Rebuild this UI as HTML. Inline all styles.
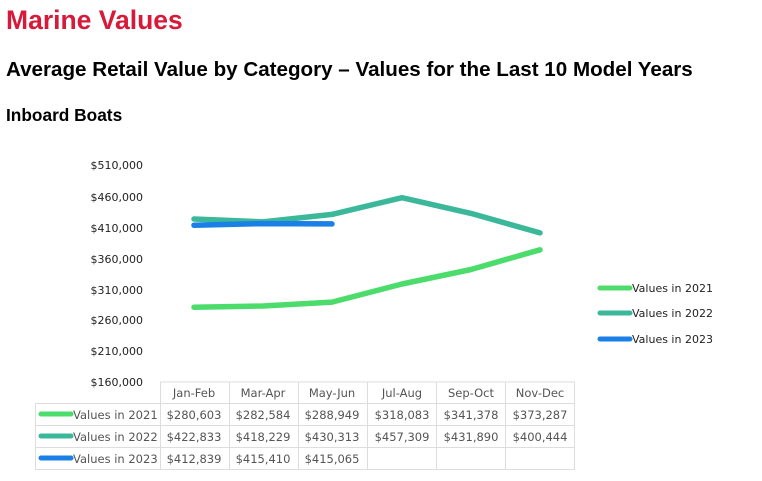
<!DOCTYPE html>
<html><head><meta charset="utf-8"><style>
body{margin:0;background:#fff;width:762px;height:481px;overflow:hidden}
svg{display:block}
.t{font-family:"Liberation Sans",sans-serif;font-weight:bold}
.c{font-family:"DejaVu Sans","Liberation Sans",sans-serif;font-size:11.5px;fill:#555}
.a{font-family:"DejaVu Sans","Liberation Sans",sans-serif;font-size:11px;fill:#222}
.l{font-family:"DejaVu Sans","Liberation Sans",sans-serif;font-size:11px;fill:#222}
</style></head><body>
<svg width="762" height="481" viewBox="0 0 762 481">
<text class="t" x="6" y="29" font-size="26.5" fill="#d7193a">Marine Values</text>
<text class="t" x="6" y="76" font-size="20.6" fill="#000">Average Retail Value by Category – Values for the Last 10 Model Years</text>
<text class="t" x="6" y="121" font-size="17.3" fill="#000">Inboard Boats</text>
<g class="a" text-anchor="end">
<text x="143" y="169">$510,000</text><text x="143" y="201">$460,000</text>
<text x="143" y="232">$410,000</text><text x="143" y="263">$360,000</text>
<text x="143" y="294">$310,000</text><text x="143" y="324">$260,000</text>
<text x="143" y="355">$210,000</text><text x="143" y="386">$160,000</text>
</g>
<g fill="none" stroke-width="5.5" stroke-linecap="round" stroke-linejoin="round">
<polyline stroke="#4cdc6c" points="194,307.2 263,306 332,302.1 402,284 471,269.5 540,249.8"/>
<polyline stroke="#3bb89a" points="194,219 263,221.9 332,214.4 402,197.7 471,213.4 540,232.9"/>
<polyline stroke="#1a7fe6" points="194,225.2 263,223.6 332,223.9"/>
</g>
<g stroke-width="5" stroke-linecap="round">
<line x1="600" y1="288" x2="630" y2="288" stroke="#4cdc6c"/>
<line x1="600" y1="313" x2="630" y2="313" stroke="#3bb89a"/>
<line x1="600" y1="339" x2="630" y2="339" stroke="#1a7fe6"/>
</g>
<g class="l"><text x="632" y="292">Values in 2021</text><text x="632" y="317">Values in 2022</text><text x="632" y="343">Values in 2023</text></g>
<g stroke="#ddd" stroke-width="1" fill="none">
<line x1="160" y1="382" x2="575" y2="382"/>
<line x1="35" y1="403.5" x2="575" y2="403.5"/>
<line x1="35" y1="425.5" x2="575" y2="425.5"/>
<line x1="35" y1="447.5" x2="575" y2="447.5"/>
<line x1="35" y1="469.5" x2="575" y2="469.5"/>
<line x1="35.5" y1="403" x2="35.5" y2="470"/>
<line x1="160.5" y1="382" x2="160.5" y2="470"/>
<line x1="229.5" y1="382" x2="229.5" y2="470"/>
<line x1="298.5" y1="382" x2="298.5" y2="470"/>
<line x1="367.5" y1="382" x2="367.5" y2="470"/>
<line x1="436.5" y1="382" x2="436.5" y2="470"/>
<line x1="505.5" y1="382" x2="505.5" y2="470"/>
<line x1="574.5" y1="382" x2="574.5" y2="470"/>
</g>
<g class="c" text-anchor="middle">
<text x="194" y="397">Jan-Feb</text><text x="263" y="397">Mar-Apr</text><text x="332" y="397">May-Jun</text>
<text x="402" y="397">Jul-Aug</text><text x="471" y="397">Sep-Oct</text><text x="540" y="397">Nov-Dec</text>
<text x="194" y="419">$280,603</text><text x="263" y="419">$282,584</text><text x="332" y="419">$288,949</text>
<text x="402" y="419">$318,083</text><text x="471" y="419">$341,378</text><text x="540" y="419">$373,287</text>
<text x="194" y="441">$422,833</text><text x="263" y="441">$418,229</text><text x="332" y="441">$430,313</text>
<text x="402" y="441">$457,309</text><text x="471" y="441">$431,890</text><text x="540" y="441">$400,444</text>
<text x="194" y="463">$412,839</text><text x="263" y="463">$415,410</text><text x="332" y="463">$415,065</text>
</g>
<g stroke-width="5" stroke-linecap="round">
<line x1="41" y1="414" x2="71" y2="414" stroke="#4cdc6c"/>
<line x1="41" y1="436" x2="71" y2="436" stroke="#3bb89a"/>
<line x1="41" y1="458" x2="71" y2="458" stroke="#1a7fe6"/>
</g>
<g class="c"><text x="73" y="419">Values in 2021</text><text x="73" y="441">Values in 2022</text><text x="73" y="463">Values in 2023</text></g>
</svg>
</body></html>
